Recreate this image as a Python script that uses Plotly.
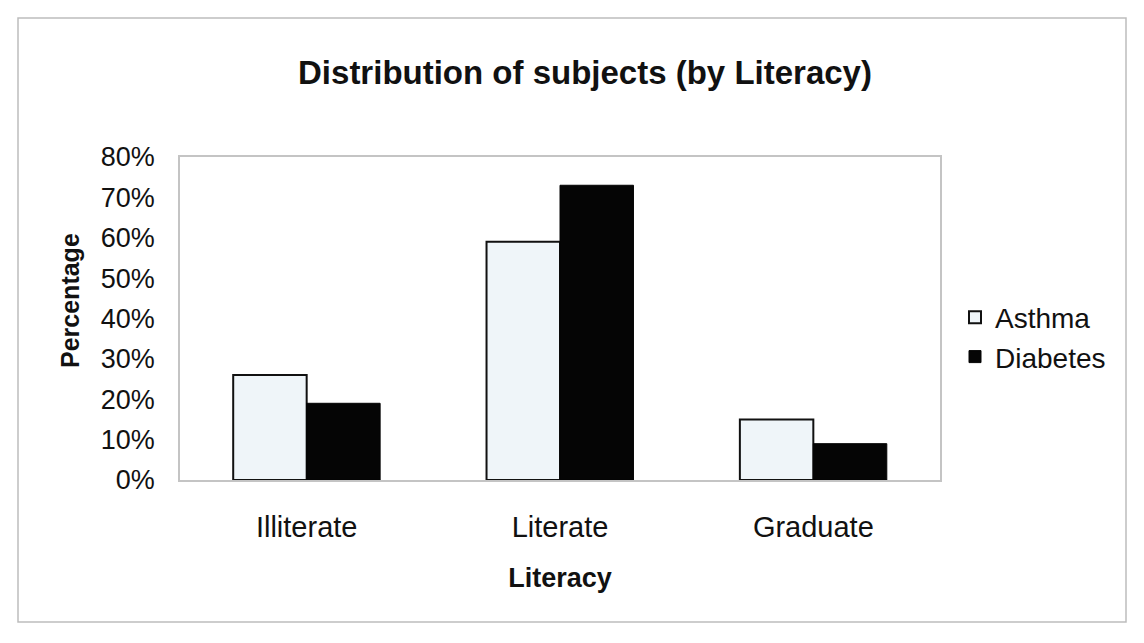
import plotly.graph_objects as go

categories = ["Illiterate", "Literate", "Graduate"]
asthma = [26, 59, 15]
diabetes = [19, 73, 9]
y_ticks = [0, 10, 20, 30, 40, 50, 60, 70, 80]
y_tick_labels = [f"{v}%" for v in y_ticks]

FONT = "Liberation Sans, Arial, sans-serif"

fig = go.Figure()
fig.add_trace(go.Bar(
    name="Asthma", x=categories, y=asthma,
    marker=dict(color="#eff5f9", line=dict(color="#111111", width=2)),
))
fig.add_trace(go.Bar(
    name="Diabetes", x=categories, y=diabetes,
    marker=dict(color="#050505", line=dict(color="#050505", width=1)),
))

L, R, T, B = 180, 204, 157, 163
W, H = 1144, 643
pw, ph = W - L - R, H - T - B

def px_to_paper_x(px):
    return (px - L) / pw

def px_to_paper_y(py):
    return (H - B - py) / ph

fig.add_shape(type="rect", xref="paper", yref="paper",
              x0=px_to_paper_x(18), x1=px_to_paper_x(1126),
              y0=px_to_paper_y(622), y1=px_to_paper_y(18),
              line=dict(color="#bdbdbd", width=1.5), fillcolor="rgba(0,0,0,0)",
              layer="below")

fig.add_annotation(text="<b>Percentage</b>", xref="paper", yref="paper",
                   x=px_to_paper_x(70), y=px_to_paper_y(301),
                   xanchor="center", yanchor="middle", textangle=-90, showarrow=False,
                   font=dict(size=25, family=FONT, color="#111111"))

fig.update_layout(
    width=W, height=H,
    margin=dict(l=L, r=R, t=T, b=B),
    paper_bgcolor="white", plot_bgcolor="white",
    barmode="group", bargap=0.42, bargroupgap=0,
    font=dict(family=FONT, color="#111111"),
    title=dict(text="<b>Distribution of subjects (by Literacy)</b>",
               x=585 / W, xanchor="center", y=1 - 72 / H, yanchor="middle",
               font=dict(size=33, family=FONT, color="#111111")),
    legend=dict(x=px_to_paper_x(955), y=px_to_paper_y(337), xanchor="left", yanchor="middle",
                font=dict(size=28, family=FONT), bgcolor="rgba(0,0,0,0)",
                itemwidth=30, tracegroupgap=0),
    showlegend=True,
)
fig.update_xaxes(
    showline=True, linecolor="#c4c4c4", linewidth=1.5, mirror=True,
    ticks="outside", ticklen=20, tickcolor="rgba(0,0,0,0)",
    tickfont=dict(size=29, family=FONT),
    title=dict(text="<b>Literacy</b>", font=dict(size=27, family=FONT), standoff=27),
)
fig.update_yaxes(
    range=[0, 80], tickvals=y_ticks, ticktext=y_tick_labels,
    showline=True, linecolor="#c4c4c4", linewidth=1.5, mirror=True,
    showgrid=False, zeroline=False,
    ticks="outside", ticklen=18, tickcolor="rgba(0,0,0,0)",
    tickfont=dict(size=27, family=FONT),
)

fig.write_html("out.html")
